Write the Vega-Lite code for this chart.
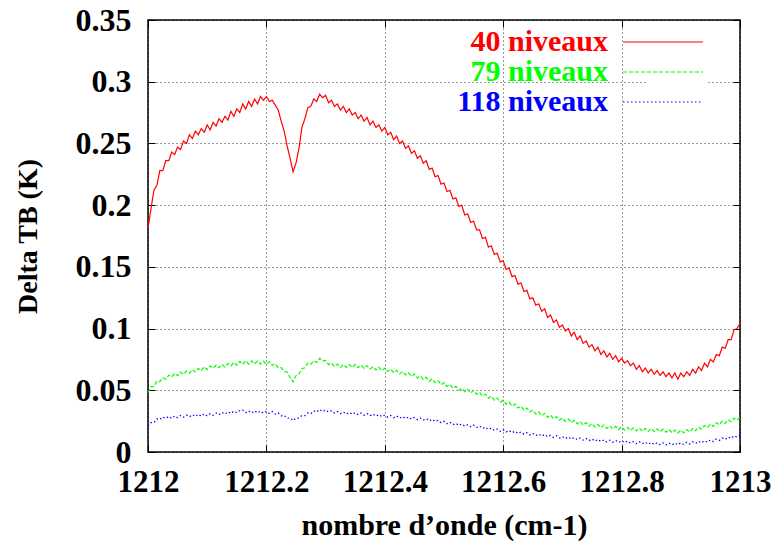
{
"$schema":"https://vega.github.io/schema/vega-lite/v6.json",
"width":592,"height":432,
"autosize":{"type":"none"},
"padding":{"left":148,"top":20,"right":33,"bottom":91},
"background":"white",
"config":{"font":"Liberation Serif","view":{"stroke":"black","strokeWidth":1.5},
"legend":{"labelFont":"Liberation Serif","labelFontWeight":"bold","labelFontSize":30},
"style":{"guide-label":{"font":"Liberation Serif","fontWeight":"bold"}}},
"data":{"values":[
{"x":1212.000,"n40":0.181,"n79":0.0480,"n118":0.0210},
{"x":1212.005,"n40":0.197,"n79":0.0530,"n118":0.0238},
{"x":1212.010,"n40":0.212,"n79":0.0530,"n118":0.0237},
{"x":1212.015,"n40":0.216,"n79":0.0575,"n118":0.0268},
{"x":1212.020,"n40":0.228,"n79":0.0570,"n118":0.0262},
{"x":1212.025,"n40":0.228,"n79":0.0602,"n118":0.0284},
{"x":1212.030,"n40":0.236,"n79":0.0590,"n118":0.0272},
{"x":1212.035,"n40":0.236,"n79":0.0622,"n118":0.0289},
{"x":1212.040,"n40":0.243,"n79":0.0608,"n118":0.0272},
{"x":1212.045,"n40":0.241,"n79":0.0637,"n118":0.0292},
{"x":1212.050,"n40":0.247,"n79":0.0618,"n118":0.0277},
{"x":1212.055,"n40":0.245,"n79":0.0647,"n118":0.0296},
{"x":1212.060,"n40":0.252,"n79":0.0628,"n118":0.0282},
{"x":1212.065,"n40":0.250,"n79":0.0657,"n118":0.0299},
{"x":1212.070,"n40":0.257,"n79":0.0638,"n118":0.0284},
{"x":1212.075,"n40":0.254,"n79":0.0667,"n118":0.0302},
{"x":1212.080,"n40":0.260,"n79":0.0648,"n118":0.0287},
{"x":1212.085,"n40":0.257,"n79":0.0677,"n118":0.0306},
{"x":1212.090,"n40":0.262,"n79":0.0658,"n118":0.0290},
{"x":1212.095,"n40":0.259,"n79":0.0690,"n118":0.0309},
{"x":1212.100,"n40":0.265,"n79":0.0668,"n118":0.0292},
{"x":1212.105,"n40":0.261,"n79":0.0697,"n118":0.0311},
{"x":1212.110,"n40":0.267,"n79":0.0678,"n118":0.0297},
{"x":1212.115,"n40":0.264,"n79":0.0704,"n118":0.0316},
{"x":1212.120,"n40":0.270,"n79":0.0683,"n118":0.0302},
{"x":1212.125,"n40":0.267,"n79":0.0709,"n118":0.0321},
{"x":1212.130,"n40":0.272,"n79":0.0688,"n118":0.0307},
{"x":1212.135,"n40":0.269,"n79":0.0717,"n118":0.0326},
{"x":1212.140,"n40":0.276,"n79":0.0698,"n118":0.0312},
{"x":1212.145,"n40":0.272,"n79":0.0726,"n118":0.0331},
{"x":1212.150,"n40":0.278,"n79":0.0703,"n118":0.0317},
{"x":1212.155,"n40":0.275,"n79":0.0734,"n118":0.0336},
{"x":1212.160,"n40":0.282,"n79":0.0710,"n118":0.0340},
{"x":1212.165,"n40":0.278,"n79":0.0740,"n118":0.0319},
{"x":1212.170,"n40":0.284,"n79":0.0713,"n118":0.0334},
{"x":1212.175,"n40":0.280,"n79":0.0738,"n118":0.0317},
{"x":1212.180,"n40":0.286,"n79":0.0713,"n118":0.0334},
{"x":1212.185,"n40":0.282,"n79":0.0738,"n118":0.0316},
{"x":1212.190,"n40":0.288,"n79":0.0712,"n118":0.0332},
{"x":1212.195,"n40":0.285,"n79":0.0736,"n118":0.0314},
{"x":1212.200,"n40":0.288,"n79":0.0710,"n118":0.0330},
{"x":1212.205,"n40":0.284,"n79":0.0732,"n118":0.0312},
{"x":1212.210,"n40":0.285,"n79":0.0702,"n118":0.0328},
{"x":1212.215,"n40":0.281,"n79":0.0715,"n118":0.0307},
{"x":1212.220,"n40":0.277,"n79":0.0682,"n118":0.0318},
{"x":1212.225,"n40":0.268,"n79":0.0683,"n118":0.0293},
{"x":1212.230,"n40":0.260,"n79":0.0652,"n118":0.0297},
{"x":1212.235,"n40":0.248,"n79":0.0648,"n118":0.0273},
{"x":1212.240,"n40":0.238,"n79":0.0602,"n118":0.0277},
{"x":1212.245,"n40":0.227,"n79":0.0568,"n118":0.0254},
{"x":1212.250,"n40":0.234,"n79":0.0618,"n118":0.0276},
{"x":1212.255,"n40":0.246,"n79":0.0632,"n118":0.0274},
{"x":1212.260,"n40":0.263,"n79":0.0675,"n118":0.0297},
{"x":1212.265,"n40":0.270,"n79":0.0682,"n118":0.0294},
{"x":1212.270,"n40":0.279,"n79":0.0720,"n118":0.0318},
{"x":1212.275,"n40":0.280,"n79":0.0710,"n118":0.0311},
{"x":1212.280,"n40":0.286,"n79":0.0740,"n118":0.0333},
{"x":1212.285,"n40":0.284,"n79":0.0725,"n118":0.0323},
{"x":1212.290,"n40":0.290,"n79":0.0760,"n118":0.0345},
{"x":1212.295,"n40":0.287,"n79":0.0738,"n118":0.0327},
{"x":1212.300,"n40":0.289,"n79":0.0742,"n118":0.0341},
{"x":1212.305,"n40":0.283,"n79":0.0708,"n118":0.0322},
{"x":1212.310,"n40":0.285,"n79":0.0722,"n118":0.0335},
{"x":1212.315,"n40":0.280,"n79":0.0693,"n118":0.0316},
{"x":1212.320,"n40":0.282,"n79":0.0712,"n118":0.0328},
{"x":1212.325,"n40":0.277,"n79":0.0686,"n118":0.0310},
{"x":1212.330,"n40":0.280,"n79":0.0709,"n118":0.0324},
{"x":1212.335,"n40":0.275,"n79":0.0685,"n118":0.0307},
{"x":1212.340,"n40":0.278,"n79":0.0709,"n118":0.0322},
{"x":1212.345,"n40":0.273,"n79":0.0685,"n118":0.0305},
{"x":1212.350,"n40":0.275,"n79":0.0709,"n118":0.0320},
{"x":1212.355,"n40":0.270,"n79":0.0683,"n118":0.0302},
{"x":1212.360,"n40":0.273,"n79":0.0704,"n118":0.0316},
{"x":1212.365,"n40":0.268,"n79":0.0678,"n118":0.0298},
{"x":1212.370,"n40":0.271,"n79":0.0700,"n118":0.0312},
{"x":1212.375,"n40":0.265,"n79":0.0673,"n118":0.0294},
{"x":1212.380,"n40":0.268,"n79":0.0692,"n118":0.0308},
{"x":1212.385,"n40":0.263,"n79":0.0665,"n118":0.0290},
{"x":1212.390,"n40":0.265,"n79":0.0686,"n118":0.0304},
{"x":1212.395,"n40":0.260,"n79":0.0658,"n118":0.0286},
{"x":1212.400,"n40":0.263,"n79":0.0680,"n118":0.0300},
{"x":1212.405,"n40":0.257,"n79":0.0653,"n118":0.0282},
{"x":1212.410,"n40":0.259,"n79":0.0672,"n118":0.0296},
{"x":1212.415,"n40":0.253,"n79":0.0643,"n118":0.0278},
{"x":1212.420,"n40":0.256,"n79":0.0662,"n118":0.0292},
{"x":1212.425,"n40":0.250,"n79":0.0633,"n118":0.0274},
{"x":1212.430,"n40":0.252,"n79":0.0652,"n118":0.0288},
{"x":1212.435,"n40":0.246,"n79":0.0625,"n118":0.0270},
{"x":1212.440,"n40":0.248,"n79":0.0642,"n118":0.0284},
{"x":1212.445,"n40":0.242,"n79":0.0613,"n118":0.0266},
{"x":1212.450,"n40":0.244,"n79":0.0632,"n118":0.0280},
{"x":1212.455,"n40":0.238,"n79":0.0600,"n118":0.0262},
{"x":1212.460,"n40":0.240,"n79":0.0617,"n118":0.0276},
{"x":1212.465,"n40":0.234,"n79":0.0588,"n118":0.0258},
{"x":1212.470,"n40":0.236,"n79":0.0605,"n118":0.0272},
{"x":1212.475,"n40":0.229,"n79":0.0573,"n118":0.0253},
{"x":1212.480,"n40":0.230,"n79":0.0592,"n118":0.0266},
{"x":1212.485,"n40":0.223,"n79":0.0561,"n118":0.0247},
{"x":1212.490,"n40":0.224,"n79":0.0577,"n118":0.0257},
{"x":1212.495,"n40":0.217,"n79":0.0545,"n118":0.0237},
{"x":1212.500,"n40":0.218,"n79":0.0562,"n118":0.0249},
{"x":1212.505,"n40":0.211,"n79":0.0531,"n118":0.0229},
{"x":1212.510,"n40":0.212,"n79":0.0547,"n118":0.0241},
{"x":1212.515,"n40":0.205,"n79":0.0516,"n118":0.0221},
{"x":1212.520,"n40":0.206,"n79":0.0532,"n118":0.0233},
{"x":1212.525,"n40":0.199,"n79":0.0501,"n118":0.0215},
{"x":1212.530,"n40":0.200,"n79":0.0517,"n118":0.0228},
{"x":1212.535,"n40":0.192,"n79":0.0488,"n118":0.0209},
{"x":1212.540,"n40":0.193,"n79":0.0507,"n118":0.0222},
{"x":1212.545,"n40":0.186,"n79":0.0478,"n118":0.0204},
{"x":1212.550,"n40":0.187,"n79":0.0499,"n118":0.0218},
{"x":1212.555,"n40":0.180,"n79":0.0468,"n118":0.0198},
{"x":1212.560,"n40":0.180,"n79":0.0484,"n118":0.0210},
{"x":1212.565,"n40":0.173,"n79":0.0453,"n118":0.0190},
{"x":1212.570,"n40":0.174,"n79":0.0468,"n118":0.0202},
{"x":1212.575,"n40":0.166,"n79":0.0436,"n118":0.0182},
{"x":1212.580,"n40":0.167,"n79":0.0452,"n118":0.0194},
{"x":1212.585,"n40":0.160,"n79":0.0420,"n118":0.0174},
{"x":1212.590,"n40":0.161,"n79":0.0436,"n118":0.0186},
{"x":1212.595,"n40":0.154,"n79":0.0404,"n118":0.0167},
{"x":1212.600,"n40":0.155,"n79":0.0420,"n118":0.0181},
{"x":1212.605,"n40":0.148,"n79":0.0388,"n118":0.0162},
{"x":1212.610,"n40":0.149,"n79":0.0404,"n118":0.0175},
{"x":1212.615,"n40":0.142,"n79":0.0372,"n118":0.0156},
{"x":1212.620,"n40":0.143,"n79":0.0388,"n118":0.0169},
{"x":1212.625,"n40":0.136,"n79":0.0356,"n118":0.0150},
{"x":1212.630,"n40":0.137,"n79":0.0372,"n118":0.0163},
{"x":1212.635,"n40":0.130,"n79":0.0340,"n118":0.0144},
{"x":1212.640,"n40":0.131,"n79":0.0356,"n118":0.0157},
{"x":1212.645,"n40":0.124,"n79":0.0324,"n118":0.0138},
{"x":1212.650,"n40":0.125,"n79":0.0340,"n118":0.0151},
{"x":1212.655,"n40":0.119,"n79":0.0308,"n118":0.0132},
{"x":1212.660,"n40":0.120,"n79":0.0325,"n118":0.0146},
{"x":1212.665,"n40":0.114,"n79":0.0294,"n118":0.0128},
{"x":1212.670,"n40":0.116,"n79":0.0312,"n118":0.0142},
{"x":1212.675,"n40":0.109,"n79":0.0281,"n118":0.0123},
{"x":1212.680,"n40":0.111,"n79":0.0299,"n118":0.0136},
{"x":1212.685,"n40":0.105,"n79":0.0269,"n118":0.0118},
{"x":1212.690,"n40":0.107,"n79":0.0287,"n118":0.0132},
{"x":1212.695,"n40":0.101,"n79":0.0258,"n118":0.0113},
{"x":1212.700,"n40":0.103,"n79":0.0276,"n118":0.0126},
{"x":1212.705,"n40":0.098,"n79":0.0248,"n118":0.0108},
{"x":1212.710,"n40":0.100,"n79":0.0267,"n118":0.0122},
{"x":1212.715,"n40":0.094,"n79":0.0238,"n118":0.0104},
{"x":1212.720,"n40":0.097,"n79":0.0257,"n118":0.0118},
{"x":1212.725,"n40":0.091,"n79":0.0228,"n118":0.0100},
{"x":1212.730,"n40":0.094,"n79":0.0247,"n118":0.0114},
{"x":1212.735,"n40":0.088,"n79":0.0218,"n118":0.0096},
{"x":1212.740,"n40":0.090,"n79":0.0238,"n118":0.0110},
{"x":1212.745,"n40":0.085,"n79":0.0210,"n118":0.0092},
{"x":1212.750,"n40":0.087,"n79":0.0231,"n118":0.0106},
{"x":1212.755,"n40":0.082,"n79":0.0203,"n118":0.0088},
{"x":1212.760,"n40":0.085,"n79":0.0224,"n118":0.0102},
{"x":1212.765,"n40":0.079,"n79":0.0197,"n118":0.0084},
{"x":1212.770,"n40":0.082,"n79":0.0218,"n118":0.0098},
{"x":1212.775,"n40":0.077,"n79":0.0191,"n118":0.0081},
{"x":1212.780,"n40":0.080,"n79":0.0212,"n118":0.0096},
{"x":1212.785,"n40":0.075,"n79":0.0186,"n118":0.0079},
{"x":1212.790,"n40":0.078,"n79":0.0207,"n118":0.0094},
{"x":1212.795,"n40":0.073,"n79":0.0181,"n118":0.0077},
{"x":1212.800,"n40":0.076,"n79":0.0204,"n118":0.0092},
{"x":1212.805,"n40":0.072,"n79":0.0178,"n118":0.0075},
{"x":1212.810,"n40":0.074,"n79":0.0200,"n118":0.0089},
{"x":1212.815,"n40":0.070,"n79":0.0174,"n118":0.0072},
{"x":1212.820,"n40":0.072,"n79":0.0196,"n118":0.0086},
{"x":1212.825,"n40":0.067,"n79":0.0171,"n118":0.0068},
{"x":1212.830,"n40":0.070,"n79":0.0194,"n118":0.0083},
{"x":1212.835,"n40":0.065,"n79":0.0168,"n118":0.0066},
{"x":1212.840,"n40":0.068,"n79":0.0191,"n118":0.0080},
{"x":1212.845,"n40":0.064,"n79":0.0166,"n118":0.0063},
{"x":1212.850,"n40":0.067,"n79":0.0190,"n118":0.0078},
{"x":1212.855,"n40":0.063,"n79":0.0165,"n118":0.0061},
{"x":1212.860,"n40":0.066,"n79":0.0188,"n118":0.0076},
{"x":1212.865,"n40":0.062,"n79":0.0163,"n118":0.0059},
{"x":1212.870,"n40":0.065,"n79":0.0185,"n118":0.0074},
{"x":1212.875,"n40":0.061,"n79":0.0160,"n118":0.0057},
{"x":1212.880,"n40":0.064,"n79":0.0182,"n118":0.0073},
{"x":1212.885,"n40":0.060,"n79":0.0156,"n118":0.0057},
{"x":1212.890,"n40":0.064,"n79":0.0178,"n118":0.0073},
{"x":1212.895,"n40":0.059,"n79":0.0153,"n118":0.0058},
{"x":1212.900,"n40":0.064,"n79":0.0177,"n118":0.0075},
{"x":1212.905,"n40":0.061,"n79":0.0155,"n118":0.0061},
{"x":1212.910,"n40":0.065,"n79":0.0182,"n118":0.0079},
{"x":1212.915,"n40":0.062,"n79":0.0162,"n118":0.0065},
{"x":1212.920,"n40":0.067,"n79":0.0190,"n118":0.0083},
{"x":1212.925,"n40":0.064,"n79":0.0172,"n118":0.0069},
{"x":1212.930,"n40":0.069,"n79":0.0202,"n118":0.0087},
{"x":1212.935,"n40":0.066,"n79":0.0185,"n118":0.0073},
{"x":1212.940,"n40":0.072,"n79":0.0215,"n118":0.0092},
{"x":1212.945,"n40":0.069,"n79":0.0198,"n118":0.0079},
{"x":1212.950,"n40":0.075,"n79":0.0227,"n118":0.0098},
{"x":1212.955,"n40":0.073,"n79":0.0208,"n118":0.0085},
{"x":1212.960,"n40":0.079,"n79":0.0238,"n118":0.0105},
{"x":1212.965,"n40":0.078,"n79":0.0220,"n118":0.0093},
{"x":1212.970,"n40":0.085,"n79":0.0250,"n118":0.0113},
{"x":1212.975,"n40":0.084,"n79":0.0232,"n118":0.0101},
{"x":1212.980,"n40":0.091,"n79":0.0262,"n118":0.0121},
{"x":1212.985,"n40":0.091,"n79":0.0245,"n118":0.0110},
{"x":1212.990,"n40":0.099,"n79":0.0275,"n118":0.0131},
{"x":1212.995,"n40":0.100,"n79":0.0258,"n118":0.0121},
{"x":1213.000,"n40":0.104,"n79":0.0285,"n118":0.0138}
]},
"transform":[{"fold":["n40","n79","n118"],"as":["serie","v"]}],
"layer":[
{"mark":{"type":"line","strokeWidth":1.2,"clip":true},
"encoding":{
"x":{"field":"x","type":"quantitative","scale":{"domain":[1212,1213],"nice":false,"zero":false},
"axis":{"title":"nombre d’onde (cm-1)","values":[1212,1212.2,1212.4,1212.6,1212.8,1213],"format":"~f",
"domain":false,"grid":true,"gridDash":[1,3],"gridColor":"#000000","gridOpacity":0.8,
"ticks":true,"tickSize":-7,"tickColor":"#000000","tickWidth":1,
"labelFont":"Liberation Serif","labelFontWeight":"bold","labelFontSize":31,"labelColor":"#000000","labelPadding":22,"labelFlush":false,"labelBaseline":"top",
"titleFont":"Liberation Serif","titleFontWeight":"bold","titleFontSize":30,"titleColor":"#000000","titlePadding":13}},
"y":{"field":"v","type":"quantitative","scale":{"domain":[0,0.35],"nice":false},
"axis":{"title":"Delta TB (K)","values":[0,0.05,0.1,0.15,0.2,0.25,0.3,0.35],"format":"~g",
"domain":false,"grid":true,"gridDash":[1,3],"gridColor":"#000000","gridOpacity":0.8,
"ticks":true,"tickSize":-7,"tickColor":"#000000","tickWidth":1,
"labelFont":"Liberation Serif","labelFontWeight":"bold","labelFontSize":32,"labelColor":"#000000","labelPadding":24,"labelFlush":false,
"titleFont":"Liberation Serif","titleFontWeight":"bold","titleFontSize":28,"titleColor":"#000000","titlePadding":33}},
"color":{"field":"serie","type":"nominal","scale":{"domain":["n40","n79","n118"],"range":["#ff0000","#00ff00","#0000ff"]},
"legend":{"title":null,"orient":"none","legendX":500,"legendY":7,"rowPadding":-4,"symbolType":"M-8,0H8","symbolSize":100,"symbolStrokeWidth":1.2,
"labelAlign":"right","labelOffset":-70,"labelFont":"Liberation Serif","labelFontWeight":"bold","labelFontSize":30,"labelLimit":0,"fillColor":"white",
"labelColor":{"expr":"datum.value == 'n40' ? '#ff0000' : datum.value == 'n79' ? '#00ff00' : '#0000ff'"},
"labelExpr":"datum.value == 'n40' ? '40 niveaux' : datum.value == 'n79' ? '79 niveaux' : '118 niveaux'","padding":0}},
"strokeDash":{"field":"serie","type":"nominal","scale":{"domain":["n40","n79","n118"],"range":[[1,0],[4,2],[1.5,2.5]]},
"legend":{"title":null,"orient":"none","legendX":500,"legendY":7,"rowPadding":-4,"symbolType":"M-8,0H8","symbolSize":100,"symbolStrokeWidth":1.2,
"labelAlign":"right","labelOffset":-70,"labelFont":"Liberation Serif","labelFontWeight":"bold","labelFontSize":30,"labelLimit":0,"fillColor":"white",
"labelColor":{"expr":"datum.value == 'n40' ? '#ff0000' : datum.value == 'n79' ? '#00ff00' : '#0000ff'"},
"labelExpr":"datum.value == 'n40' ? '40 niveaux' : datum.value == 'n79' ? '79 niveaux' : '118 niveaux'","padding":0}}
}},
{"mark":{"type":"line","opacity":0},
"encoding":{
"x":{"field":"x","type":"quantitative","scale":{"domain":[1212,1213],"nice":false,"zero":false},
"axis":{"orient":"top","title":null,"labels":false,"values":[1212,1212.2,1212.4,1212.6,1212.8,1213],"domain":false,"grid":false,"ticks":true,"tickSize":-7,"tickColor":"#000000","tickWidth":1}},
"y":{"field":"v","type":"quantitative","scale":{"domain":[0,0.35],"nice":false},
"axis":{"orient":"right","title":null,"labels":false,"values":[0,0.05,0.1,0.15,0.2,0.25,0.3,0.35],"domain":false,"grid":false,"ticks":true,"tickSize":-7,"tickColor":"#000000","tickWidth":1}},
"detail":{"field":"serie","type":"nominal"}
}}
],
"resolve":{"axis":{"x":"independent","y":"independent"}}
}
